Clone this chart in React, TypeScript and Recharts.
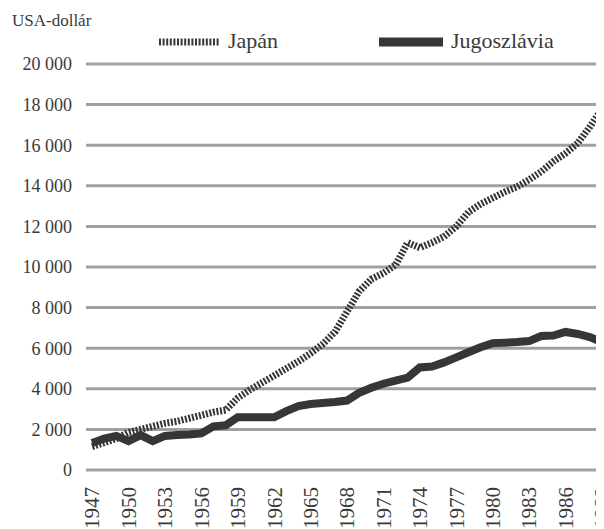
import React from 'react';
import { LineChart, Line, XAxis, YAxis, CartesianGrid, Legend } from 'recharts';

const years = [
  1947, 1948, 1949, 1950, 1951, 1952, 1953, 1954, 1955, 1956,
  1957, 1958, 1959, 1960, 1961, 1962, 1963, 1964, 1965, 1966,
  1967, 1968, 1969, 1970, 1971, 1972, 1973, 1974, 1975, 1976,
  1977, 1978, 1979, 1980, 1981, 1982, 1983, 1984, 1985, 1986,
  1987, 1988, 1989,
];

const japan = [
  1150, 1350, 1550, 1850, 2000, 2150, 2300, 2400, 2550, 2700,
  2850, 2950, 3550, 3950, 4300, 4650, 5000, 5350, 5750, 6200,
  6800, 7800, 8800, 9400, 9700, 10100, 11200, 10950, 11200, 11500,
  12000, 12700, 13100, 13400, 13700, 13950, 14300, 14700, 15200, 15600,
  16100, 16900, 17800,
];

const yugoslavia = [
  1330, 1550, 1680, 1420, 1720, 1420, 1680, 1720, 1750, 1800,
  2150, 2200, 2600, 2600, 2600, 2600, 2900, 3150, 3250, 3300,
  3350, 3420, 3800, 4050, 4250, 4400, 4550, 5050, 5100, 5300,
  5550, 5800, 6050, 6250, 6270, 6300, 6350, 6600, 6620, 6800,
  6700, 6550, 6300,
];

const xTicks = [1947, 1950, 1953, 1956, 1959, 1962, 1965, 1968, 1971, 1974, 1977, 1980, 1983, 1986, 1989];
const yTicks = [0, 2000, 4000, 6000, 8000, 10000, 12000, 14000, 16000, 18000, 20000];

const unitLabel = 'USA-dollár';
const nameJapan = 'Japán';
const nameYugo = 'Jugoszlávia';

const data = years.map((year, i) => ({ year, japan: japan[i], yugo: yugoslavia[i] }));

const FONT = '"Liberation Serif", "DejaVu Serif", serif';
const TEXT = '#3a3a3a';
const LINE = '#363636';
const W = 596;
const H = 521;
const DASH = '2 1.6';

const fmt = (v: number) => String(v).replace(/\B(?=(\d{3})+(?!\d))/g, ' ');

const XTick = (props: any) => {
  const { x, y, payload } = props;
  return (
    <text
      x={x}
      y={y}
      transform={`rotate(-90 ${x} ${y})`}
      textAnchor="end"
      dy="0.35em"
      fontFamily={FONT}
      fontSize={21}
      fill={TEXT}
    >
      {payload.value}
    </text>
  );
};

const LegendContent = () => (
  <svg width={W} height={56} style={{ display: 'block' }}>
    <text x={4} y={18} fontFamily={FONT} fontSize={17} fill={TEXT}>
      {unitLabel}
    </text>
    <line x1={151} x2={212} y1={34} y2={34} stroke={LINE} strokeWidth={7} strokeDasharray={DASH} />
    <text x={220} y={40} fontFamily={FONT} fontSize={22} fill={TEXT}>
      {nameJapan}
    </text>
    <line x1={371} x2={435} y1={34} y2={34} stroke={LINE} strokeWidth={9} />
    <text x={443} y={40} fontFamily={FONT} fontSize={22} fill={TEXT}>
      {nameYugo}
    </text>
  </svg>
);

export default function App() {
  return (
    <div style={{ width: W, height: H, overflow: 'hidden' }}>
      <LineChart width={W} height={H} data={data} margin={{ top: 56, right: 0, left: 0, bottom: 0 }}>
        <CartesianGrid vertical={false} stroke="#a0a0a0" strokeWidth={3} />
        <XAxis
          dataKey="year"
          type="number"
          domain={[1946.5, 1989.17]}
          ticks={xTicks}
          allowDataOverflow
          axisLine={false}
          tickLine={false}
          tickSize={0}
          tickMargin={17}
          height={59}
          interval={0}
          tick={<XTick />}
        />
        <YAxis
          type="number"
          domain={[0, 20000]}
          ticks={yTicks}
          width={78}
          axisLine={false}
          tickLine={false}
          tickSize={0}
          tickMargin={14}
          tickFormatter={fmt}
          tick={{ fontFamily: FONT, fontSize: 18, fill: TEXT }}
          interval={0}
        />
        <Legend
          layout="horizontal"
          verticalAlign="middle"
          align="center"
          wrapperStyle={{ position: 'absolute', top: 0, left: 0, width: W, height: 56 }}
          content={<LegendContent />}
        />
        <Line
          type="linear"
          dataKey="japan"
          name={nameJapan}
          stroke={LINE}
          strokeWidth={7}
          strokeDasharray={DASH}
          dot={false}
          activeDot={false}
          isAnimationActive={false}
        />
        <Line
          type="linear"
          dataKey="yugo"
          name={nameYugo}
          stroke={LINE}
          strokeWidth={8}
          dot={false}
          activeDot={false}
          isAnimationActive={false}
        />
      </LineChart>
    </div>
  );
}
